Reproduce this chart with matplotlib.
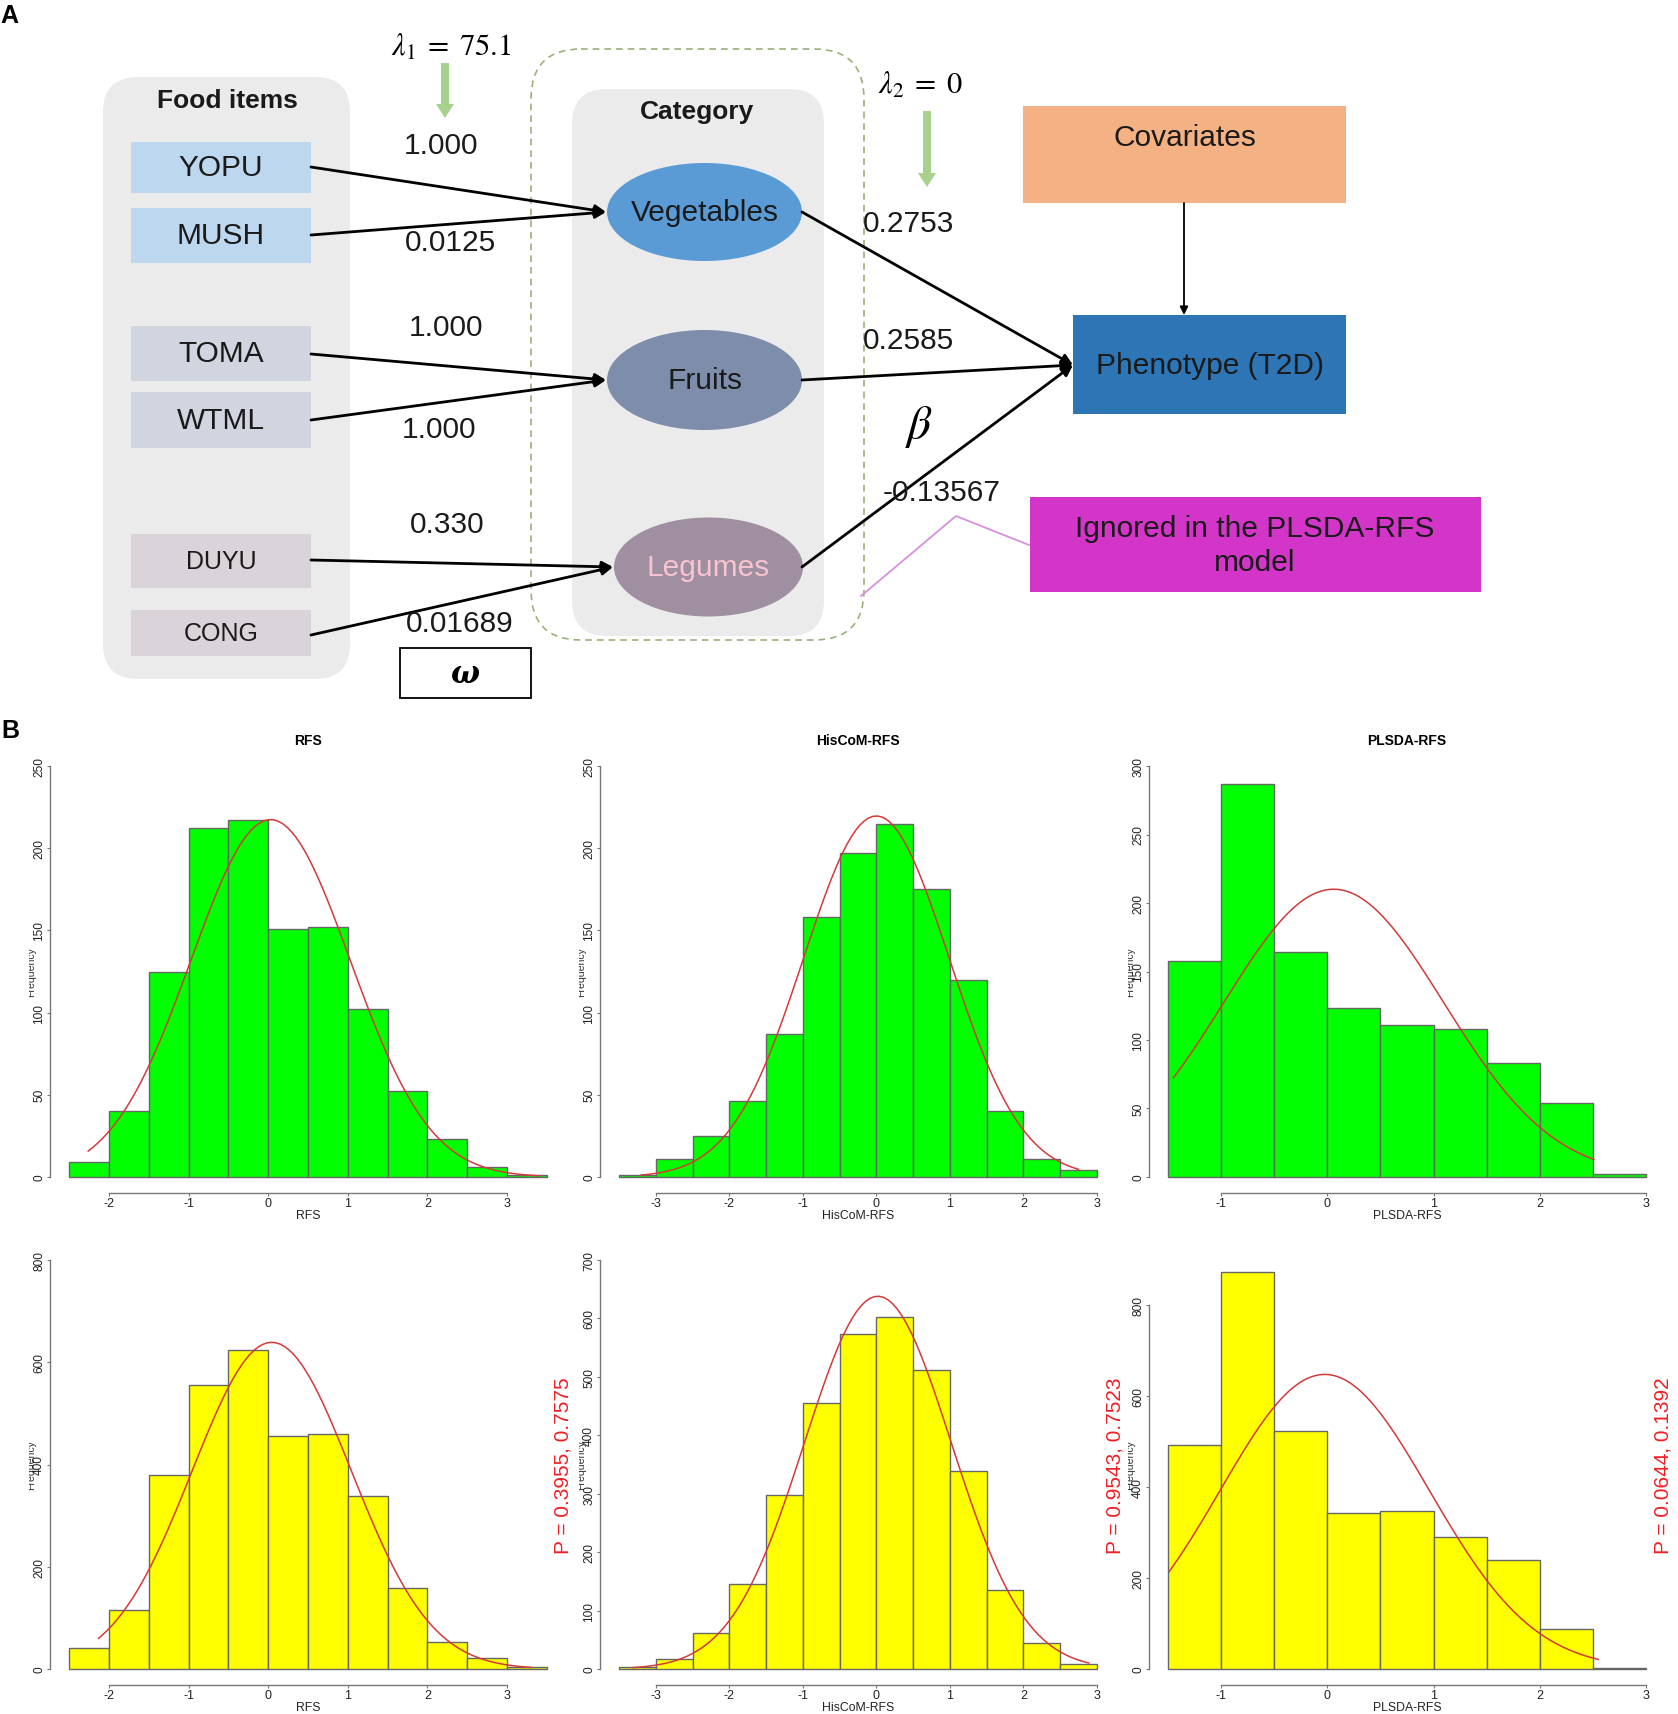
import numpy as np
import matplotlib
matplotlib.use('Agg')
import matplotlib.pyplot as plt
from matplotlib.patches import FancyBboxPatch, Ellipse
from matplotlib.transforms import Bbox

plt.rcParams['font.family'] = ['Liberation Sans', 'DejaVu Sans']
plt.rcParams['axes.unicode_minus'] = False

W, H = 1678, 1715

# ---------------- panel A values ----------------
food_items = ['YOPU', 'MUSH', 'TOMA', 'WTML', 'DUYU', 'CONG']
food_colors = ['#BDD7EE', '#BDD7EE', '#D0D5E0', '#D0D5E0', '#DBD3DA', '#DBD3DA']
categories = ['Vegetables', 'Fruits', 'Legumes']
cat_colors = ['#5B9BD5', '#7E8DAA', '#9F8FA0']
omega = ['1.000', '0.0125', '1.000', '1.000', '0.330', '0.01689']
beta = ['0.2753', '0.2585', '-0.13567']
lambda1 = '75.1'
lambda2 = '0'

# ---------------- panel B values (counts per 0.5-wide bin) ----------------
titles = ['RFS', 'HisCoM-RFS', 'PLSDA-RFS']
bin_start = [-2.5, -3.5, -1.5]
bin_width = 0.5
xticks = [[-2, -1, 0, 1, 2, 3], [-3, -2, -1, 0, 1, 2, 3], [-1, 0, 1, 2, 3]]

rfs_green = [9, 40, 125, 212, 217, 151, 152, 102, 52, 23, 6, 1]
hiscom_green = [1, 11, 25, 46, 87, 158, 197, 215, 175, 120, 40, 11, 4]
plsda_green = [158, 287, 164, 123, 111, 108, 83, 54, 2]
rfs_yellow = [42, 115, 379, 555, 623, 455, 460, 338, 158, 53, 21, 4]
hiscom_yellow = [3, 17, 62, 146, 298, 456, 574, 602, 512, 339, 136, 45, 8]
plsda_yellow = [492, 874, 524, 343, 348, 291, 239, 88, 2]

# fitted normal curve: mean, sd, drawn range
fit_green = [(0.03, 1.0, -2.26, 3.41), (0.0, 0.99, -3.2, 2.75), (0.06, 1.035, -1.45, 2.51)]
fit_yellow = [(0.045, 1.0, -2.13, 3.3), (0.02, 1.0, -3.31, 2.89), (-0.025, 0.985, -1.49, 2.55)]

ylim_green = [(250, 50), (250, 50), (300, 50)]
ylim_yellow = [(800, 200), (700, 100), (900, 200)]
p_labels = ['P = 0.3955, 0.7575', 'P = 0.9543, 0.7523', 'P = 0.0644, 0.1392']

fig = plt.figure(figsize=(W / 100, H / 100), dpi=100)

# overlay axes in pixel units for the diagram and free text
ov = fig.add_axes([0, 0, 1, 1], zorder=0)
ov.set_xlim(0, W)
ov.set_ylim(H, 0)
ov.axis('off')

DARK = '#1a1a1a'

def rbox(x, y, w, h, r, **kw):
    ov.add_patch(FancyBboxPatch((x, y), w, h, boxstyle=f'round,pad=0,rounding_size={r}', **kw))

# panel letters
ov.text(0, 16, 'A', fontsize=18, fontweight='bold', va='center', ha='left')
ov.text(1, 731, 'B', fontsize=18, fontweight='bold', va='center', ha='left')

# Food items column
rbox(103, 78, 247, 602, 35, fc='#EBEBEB', ec='none')
ov.text(227, 101, 'Food items', fontsize=19, fontweight='bold', ha='center', va='center', color=DARK)
food_y = [(143, 194), (209, 264), (327, 382), (393, 449), (535, 589), (611, 657)]
food_fs = [21.5, 21.5, 21.5, 21.5, 18, 18]
for name, col, (y0, y1), fs in zip(food_items, food_colors, food_y, food_fs):
    ov.add_patch(plt.Rectangle((131, y0), 180, y1 - y0, fc=col, ec='none'))
    ov.text(221, (y0 + y1) / 2, name, fontsize=fs, ha='center', va='center', color=DARK)

# Category column
rbox(531, 50, 333, 591, 50, fill=False, ec='#9BB07A', lw=1.2, ls=(0, (4, 3)))
rbox(572, 90, 252, 547, 35, fc='#EBEBEB', ec='none')
ov.text(697, 112, 'Category', fontsize=19, fontweight='bold', ha='center', va='center', color=DARK)
cat_xy = [(704.5, 213, 195, 98), (704.5, 381, 195, 100), (708.5, 568, 189, 99)]
cat_txt = [DARK, DARK, '#F8C4CF']
for name, col, (cx, cy, w, h), tc in zip(categories, cat_colors, cat_xy, cat_txt):
    ov.add_patch(Ellipse((cx, cy), w, h, fc=col, ec='none'))
    ov.text(cx, cy, name, fontsize=21.5, ha='center', va='center', color=tc)

# food -> category arrows
starts = [(311, 168), (311, 236), (311, 355), (311, 421), (311, 561), (311, 636)]
ends = [(606, 213), (606, 213), (606, 381), (606, 381), (613, 568), (613, 568)]
for s, e in zip(starts, ends):
    ov.annotate('', xy=e, xytext=s,
                arrowprops=dict(arrowstyle='-|>', color='black', lw=2, mutation_scale=16,
                                shrinkA=0, shrinkB=0))

w_pos = [(441, 146), (451, 243), (446, 328), (439, 430), (447, 525), (460, 624)]
for lab, (x, y) in zip(omega, w_pos):
    ov.text(x, y, lab, fontsize=21.5, ha='center', va='center', color=DARK)

ov.add_patch(plt.Rectangle((400, 649), 131, 50, fc='white', ec='black', lw=1.3))
ov.text(465, 675, 'ω', fontsize=22, family='DejaVu Serif', fontweight='bold', style='italic',
        ha='center', va='center')

# lambda annotations
ov.text(451, 48, r'$\lambda_1\;=\;%s$' % lambda1, fontsize=22, ha='center', va='center',
        math_fontfamily='stix')
ov.arrow(445, 64, 0, 55, width=8, head_width=18, head_length=14,
         length_includes_head=True, fc='#A9D18E', ec='none')
ov.text(920, 86, r'$\lambda_2\;=\;%s$' % lambda2, fontsize=22, ha='center', va='center',
        math_fontfamily='stix')
ov.arrow(927, 112, 0, 76, width=8, head_width=18, head_length=14,
         length_includes_head=True, fc='#A9D18E', ec='none')

# category -> phenotype
pheno_pt = (1073, 366)
for s in [(802, 213), (802, 381), (802, 568)]:
    ov.annotate('', xy=pheno_pt, xytext=s,
                arrowprops=dict(arrowstyle='-|>', color='black', lw=2, mutation_scale=16,
                                shrinkA=0, shrinkB=0))
b_pos = [(909, 224), (909, 341), (942, 493)]
for lab, (x, y) in zip(beta, b_pos):
    ov.text(x, y, lab, fontsize=21.5, ha='center', va='center', color=DARK)
ov.text(919, 427, r'$\beta$', fontsize=34, ha='center', va='center', math_fontfamily='stix')

# covariates / phenotype / ignored note
ov.add_patch(plt.Rectangle((1023, 107), 323, 97, fc='#F4B183', ec='none'))
ov.text(1185, 138, 'Covariates', fontsize=21.5, ha='center', va='center', color=DARK)
ov.annotate('', xy=(1184, 316), xytext=(1184, 204),
            arrowprops=dict(arrowstyle='-|>', color='black', lw=1.3, mutation_scale=12,
                            shrinkA=0, shrinkB=0))
ov.add_patch(plt.Rectangle((1073, 316), 273, 99, fc='#2E75B6', ec='none'))
ov.text(1210, 366, 'Phenotype (T2D)', fontsize=21.5, ha='center', va='center', color=DARK)
ov.add_patch(plt.Rectangle((1030, 498), 451, 95, fc='#D335C8', ec='none'))
ov.text(1255, 546, 'Ignored in the PLSDA-RFS\nmodel', fontsize=21.5, ha='center', va='center',
        color=DARK, linespacing=1.25)
ov.plot([1029, 956, 861], [546, 517, 597], color='#D98FE0', lw=1.3)


# ---------------- panel B histograms ----------------
def hist_panel(left, top, height, counts, start, color, ylim, xt, name, fit, show_title):
    width = 516
    ax = fig.add_axes([left / W, 1 - (top + height) / H, width / W, height / H], zorder=1)
    ax.set_facecolor('none')
    edges = start + bin_width * np.arange(len(counts))
    ax.bar(edges, counts, width=bin_width, align='edge', color=color,
           edgecolor='#666666', linewidth=1)
    n = sum(counts)
    mu, sd, lo, hi = fit
    xs = np.linspace(lo, hi, 101)
    ax.plot(xs, n * bin_width * np.exp(-0.5 * ((xs - mu) / sd) ** 2) / (sd * np.sqrt(2 * np.pi)),
            color='#D33A3A', lw=1.1)
    end = start + bin_width * len(counts)
    pad = 0.04 * (end - start)
    ax.set_xlim(start - pad, end + pad)
    top_v, step = ylim
    ax.set_ylim(-0.04 * top_v, 1.04 * top_v)
    ax.set_xticks(xt)
    ax.set_xticklabels([str(v) for v in xt])
    yt = np.arange(0, top_v + 1, step)
    if yt[-1] > top_v:
        yt = yt[:-1]
    ax.set_yticks(yt)
    ax.set_yticklabels([str(int(v)) for v in yt])
    for sp in ['top', 'right']:
        ax.spines[sp].set_visible(False)
    ax.spines['left'].set_bounds(0, yt[-1])
    ax.spines['bottom'].set_bounds(xt[0], xt[-1])
    for sp in ['left', 'bottom']:
        ax.spines[sp].set_color('#777777')
        ax.spines[sp].set_linewidth(1)
    ax.tick_params(axis='both', length=2.5, width=0.8, color='#777777', labelcolor='#222222')
    ax.tick_params(axis='x', labelsize=9, pad=0)
    ax.tick_params(axis='y', labelsize=8.6, labelrotation=90, pad=1)
    for lab in ax.get_yticklabels():
        lab.set_va('center')
    ax.set_xlabel(name, fontsize=8.8, labelpad=0, color='#222222')
    if show_title:
        ax.set_title(name, fontsize=10, fontweight='bold', pad=4)
    # clipped "Frequency" label as in the source image
    yc = top + height / 2
    t = ov.text(left - 14, yc, 'Frequency', fontsize=7.6, rotation=90, ha='right', va='center',
                color='#333333')
    t.set_clip_box(Bbox.from_extents(left - 21, 0, left, H))
    t.set_clip_on(True)
    return ax


lefts = [50, 600, 1149]
greens = [rfs_green, hiscom_green, plsda_green]
yellows = [rfs_yellow, hiscom_yellow, plsda_yellow]
for i in range(3):
    hist_panel(lefts[i], 750.6, 443.8, greens[i], bin_start[i], '#00FF00', ylim_green[i],
               xticks[i], titles[i], fit_green[i], True)
    hist_panel(lefts[i], 1244.6, 441.8, yellows[i], bin_start[i], '#FFFF00', ylim_yellow[i],
               xticks[i], titles[i], fit_yellow[i], False)

p_x = [563, 1115, 1663]
for lab, x in zip(p_labels, p_x):
    ov.text(x, 1466, lab, fontsize=15, rotation=90, ha='center', va='center', color='#F01E23')

fig.savefig('out.png', dpi=100)
